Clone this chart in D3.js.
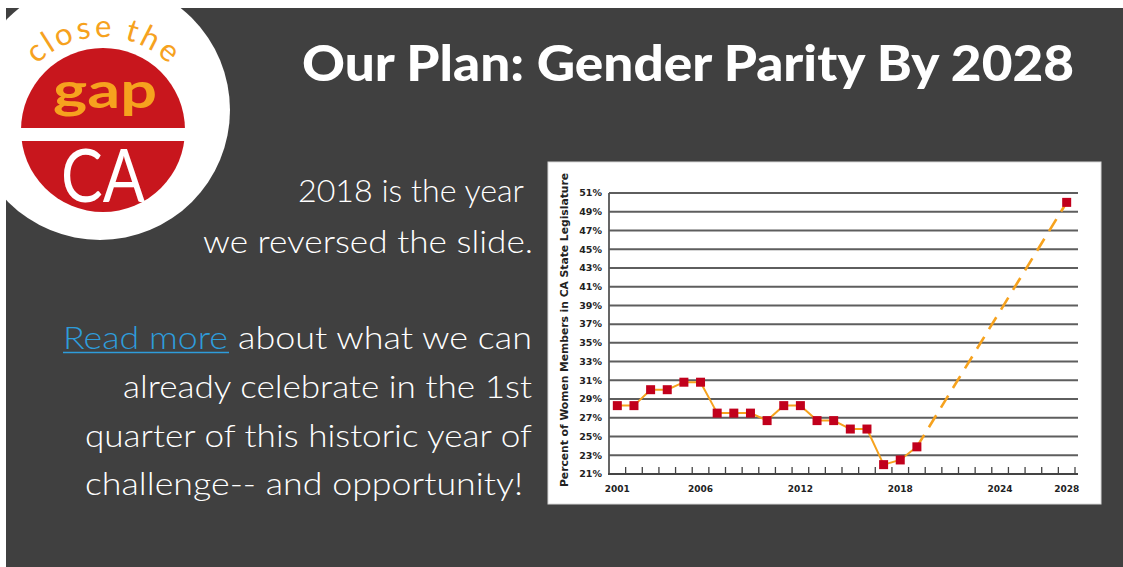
<!DOCTYPE html>
<html><head><meta charset="utf-8">
<script src="https://cdn.jsdelivr.net/npm/d3@7"></script>
<style>html,body{margin:0;padding:0;background:#fff;overflow:hidden}</style>
</head><body>
<script>
// ---- data ----
const years = [2001,2002,2003,2004,2005,2006,2007,2008,2009,2010,2011,2012,2013,2014,2015,2016,2017,2018,2019];
const pct   = [28.3,28.3,30.0,30.0,30.8,30.8,27.5,27.5,27.5,26.7,28.3,28.3,26.7,26.7,25.8,25.8,22.0,22.5,23.9];
const projYears = [2019, 2028];
const projPct   = [23.9, 50.0];
const yTicks = [21,23,25,27,29,31,33,35,37,39,41,43,45,47,49,51];
const xTickLabels = [2001,2006,2012,2018,2024,2028];
const tickYears = d3.range(2001, 2029);
const titleText = "Our Plan: Gender Parity By 2028";
const yTitle = "Percent of Women Members in CA State Legislature";
const bodyLines1 = ["2018 is the year","we reversed the slide."];
const arcWord = "close the";

const W = 1123, H = 567;
const svg = d3.select("body").append("svg").attr("width", W).attr("height", H);
const defs = svg.append("defs");

// background
svg.append("rect").attr("x",0).attr("y",0).attr("width",W).attr("height",H).attr("fill","#fff");
svg.append("rect").attr("x",6).attr("y",8).attr("width",W-6).attr("height",H-8).attr("fill","#404040");

// ---- logo ----
const logo = svg.append("g");
defs.append("clipPath").attr("id","bgclip")
  .append("rect").attr("x",6).attr("y",8).attr("width",W).attr("height",H);
logo.append("circle").attr("cx",100).attr("cy",110).attr("r",130).attr("fill","#fff").attr("clip-path","url(#bgclip)");
logo.append("circle").attr("cx",103).attr("cy",130).attr("r",82).attr("fill","#c8161d");
logo.append("rect").attr("x",15).attr("y",128).attr("width",180).attr("height",13).attr("fill","#fff");

// "close the" placed letter by letter along an arc above the red disc
const arcR = 93, acx = 103, acy = 130, arcFont = 31, arcSpan = 150;
const meas = svg.append("text").attr("font-family","Lato, sans-serif").attr("font-size",arcFont).attr("opacity",0);
const widths = arcWord.split("").map(ch => { meas.text(ch === " " ? "\u00a0" : ch); return meas.node().getComputedTextLength(); });
meas.remove();
const natural = d3.sum(widths);
const scaleW = arcSpan / natural;
let acc = 0;
const letters = arcWord.split("").map((ch, i) => {
  const mid = acc + widths[i]*scaleW/2; acc += widths[i]*scaleW;
  return {ch, s: mid - arcSpan/2};
});
letters.filter(d => d.ch !== " ").forEach(d => {
  const ang = -Math.PI/2 + d.s / arcR;
  const px = acx + arcR*Math.cos(ang), py = acy + arcR*Math.sin(ang);
  logo.append("text").attr("transform", `translate(${px},${py}) rotate(${(ang + Math.PI/2)*180/Math.PI})`)
    .attr("text-anchor","middle").attr("font-family","Lato, sans-serif").attr("font-weight",400)
    .attr("font-size",arcFont).attr("fill","#f6a21e").text(d.ch);
});

logo.append("text").attr("x",105).attr("y",108).attr("text-anchor","middle")
  .attr("font-family","Lato, sans-serif").attr("font-weight",700).attr("font-size",50).attr("fill","#f6a21e")
  .attr("textLength",104).attr("lengthAdjust","spacingAndGlyphs").text("gap");
logo.append("text").attr("x",103).attr("y",202).attr("text-anchor","middle")
  .attr("font-family","Lato, sans-serif").attr("font-weight",400).attr("font-size",74).attr("fill","#fff")
  .attr("textLength",84).attr("lengthAdjust","spacingAndGlyphs").text("CA");

// ---- title ----
svg.append("text").attr("x",302).attr("y",81)
  .attr("font-family","Lato, sans-serif").attr("font-weight",900).attr("font-size",50).attr("fill","#fff")
  .attr("textLength",772).attr("lengthAdjust","spacingAndGlyphs").text(titleText);

// ---- body text ----
const bodyFont = {fam:"Lato, sans-serif", w:300, s:31};
function bodyText(x, y, len) {
  return svg.append("text").attr("x",x).attr("y",y).attr("text-anchor","end")
    .attr("font-family",bodyFont.fam).attr("font-weight",bodyFont.w).attr("font-size",bodyFont.s)
    .attr("fill","#fff").attr("textLength",len).attr("lengthAdjust","spacingAndGlyphs");
}
bodyText(524,202,226).text(bodyLines1[0]);
bodyText(533,253,330).text(bodyLines1[1]);
svg.append("text").attr("x",63).attr("y",349)
  .attr("font-family",bodyFont.fam).attr("font-weight",bodyFont.w).attr("font-size",bodyFont.s)
  .attr("fill","#2e9cdb").attr("textLength",165).attr("lengthAdjust","spacingAndGlyphs").text("Read more");
svg.append("line").attr("x1",63).attr("x2",229).attr("y1",352.5).attr("y2",352.5).attr("stroke","#2e9cdb").attr("stroke-width",1.6);
bodyText(532,349,294).text("about what we can");
bodyText(532,398,409).text("already celebrate in the 1st");
bodyText(532,447,447).text("quarter of this historic year of");
bodyText(523,495,438).text("challenge-- and opportunity!");

// ---- chart panel ----
svg.append("rect").attr("x",548).attr("y",162).attr("width",553).attr("height",342).attr("fill","#fff")
  .attr("stroke","#d8d8d8").attr("stroke-width",1);

const x = d3.scaleLinear().domain([2000.5, 2028.5]).range([609, 1075]);
const y = d3.scaleLinear().domain([21, 51]).range([474, 193]);
const gridRight = 1078;

const chart = svg.append("g");
chart.selectAll("line.grid").data(yTicks.filter(d => d !== 21)).join("line").attr("class","grid")
  .attr("x1", x(2000.5)).attr("x2", gridRight).attr("y1", d => y(d)).attr("y2", d => y(d))
  .attr("stroke","#5e5e5e").attr("stroke-width",2);
chart.append("line").attr("x1",x(2000.5)).attr("x2",x(2000.5)).attr("y1",y(51)).attr("y2",y(21))
  .attr("stroke","#555").attr("stroke-width",1.8);
chart.append("line").attr("x1",x(2000.5)-1).attr("x2",gridRight).attr("y1",y(21)).attr("y2",y(21))
  .attr("stroke","#444").attr("stroke-width",2);
chart.selectAll("line.xt").data(tickYears).join("line").attr("class","xt")
  .attr("x1", d => x(d+0.5)).attr("x2", d => x(d+0.5)).attr("y1", y(21)).attr("y2", y(21)-7)
  .attr("stroke","#444").attr("stroke-width",1.3);
chart.selectAll("text.yl").data(yTicks).join("text").attr("class","yl")
  .attr("x",602).attr("y", d => y(d)).attr("dy","0.35em").attr("text-anchor","end")
  .attr("font-family","DejaVu Sans, sans-serif").attr("font-weight","bold").attr("font-size",9.5)
  .attr("fill","#222").text(d => d + "%");
chart.selectAll("text.xl").data(xTickLabels).join("text").attr("class","xl")
  .attr("x", d => x(d)).attr("y", 492).attr("text-anchor","middle")
  .attr("font-family","DejaVu Sans, sans-serif").attr("font-weight","bold").attr("font-size",9)
  .attr("fill","#222").text(d => d);
chart.append("text").attr("transform","translate(568,330) rotate(-90)").attr("text-anchor","middle")
  .attr("font-family","DejaVu Sans, sans-serif").attr("font-weight","bold").attr("font-size",10.5)
  .attr("fill","#222").attr("textLength",314).attr("lengthAdjust","spacingAndGlyphs").text(yTitle);

const line = d3.line().x(d => x(d[0])).y(d => y(d[1]));
chart.append("path").datum(d3.zip(projYears, projPct)).attr("d", line)
  .attr("fill","none").attr("stroke","#f6a21e").attr("stroke-width",2.6).attr("stroke-dasharray","14,9");
chart.append("path").datum(d3.zip(years, pct)).attr("d", line)
  .attr("fill","none").attr("stroke","#f6a21e").attr("stroke-width",2);
const ms = 9;
const pts = d3.zip(years, pct).concat([[projYears[1], projPct[1]]]);
chart.selectAll("rect.m").data(pts).join("rect").attr("class","m")
  .attr("x", d => x(d[0]) - ms/2).attr("y", d => y(d[1]) - ms/2).attr("width", ms).attr("height", ms)
  .attr("fill","#c1001c");
</script>
</body></html>
